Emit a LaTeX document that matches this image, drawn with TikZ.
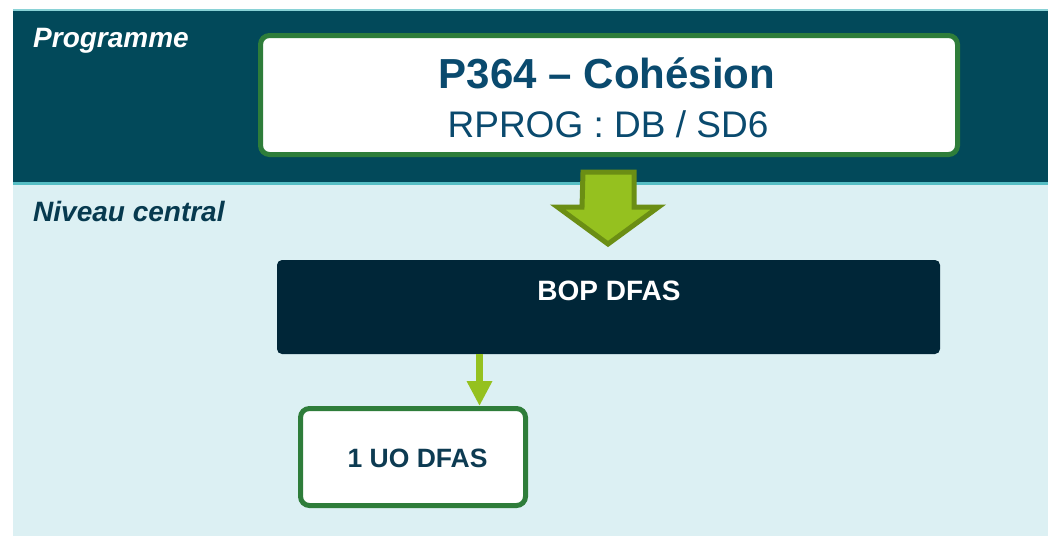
\documentclass[tikz,border=0pt]{standalone}
\usepackage{fontspec}
\setmainfont{Liberation Sans}
\usetikzlibrary{arrows.meta}

\definecolor{bandtop}{HTML}{02495A}
\definecolor{bandline}{HTML}{56BEC4}
\definecolor{bandlow}{HTML}{DCF0F3}
\definecolor{boxgreen}{HTML}{2E7D3A}
\definecolor{arrowfill}{HTML}{95C11F}
\definecolor{arrowedge}{HTML}{6B8E14}
\definecolor{bopnavy}{HTML}{002638}
\definecolor{titleblue}{HTML}{0A4A6E}
\definecolor{uoblue}{HTML}{0D3B52}
\definecolor{levelnavy}{HTML}{073A4F}

\tikzset{
  greenbox/.style={draw=boxgreen, line width=5pt, fill=white, rounded corners=9pt,
    inner sep=0pt},
  navybox/.style={fill=bopnavy, rounded corners=5pt, inner sep=0pt},
  lbl/.style={anchor=base, inner sep=0pt},
  levellabel/.style={anchor=base west, inner sep=0pt, font=\fontsize{28}{32}\selectfont\bfseries\itshape},
  thinarrow/.style={draw=arrowfill, line width=7pt, -{Triangle[width=24pt,length=25pt]}},
  blockarrow/.style={fill=arrowfill, draw=arrowedge, line width=5pt, line join=miter}
}

\begin{document}
\begin{tikzpicture}[x=1pt, y=-1pt]
  \useasboundingbox (0,0) rectangle (1048,536);

  % bands
  \fill[bandlow] (13,185) rectangle (1048,536);
  \fill[bandtop] (13,10) rectangle (1048,183);
  \draw[bandline!70, line width=2pt] (13,10) -- (1048,10);
  \draw[bandline, line width=3pt] (13,183.5) -- (1048,183.5);

  % level labels
  \node[levellabel, text=white] (lvlprog) at (33,47) {Programme};
  \node[levellabel, text=levelnavy] (lvlcentral) at (33,221) {Niveau central};

  % programme box
  \node[greenbox, minimum width=697pt, minimum height=119pt] (prog) at (609,95) {};
  \node[lbl, text=titleblue, font=\fontsize{42}{48}\selectfont\bfseries] (progtitle) at (607,88) {P364 – Cohésion};
  \node[lbl, text=titleblue, font=\fontsize{37}{42}\selectfont] (progsub) at (608,137) {RPROG : DB / SD6};

  % BOP box
  \node[navybox, minimum width=663pt, minimum height=94pt] (bop) at (608.5,307) {};
  \node[lbl, text=white, font=\fontsize{28}{32}\selectfont\bfseries] (boptext) at (609,300) {BOP DFAS};

  % UO box
  \node[greenbox, minimum width=225pt, minimum height=97pt] (uo) at (413,457) {};
  \node[lbl, text=uoblue, font=\fontsize{26.5}{30}\selectfont\bfseries] (uotext) at (417.5,467) {1 UO DFAS};

  % block arrow from programme to BOP
  \coordinate (ba) at (608.5,172);
  \draw[blockarrow] ([xshift=-25.5pt]ba) -- ++(51,0) -- ++(0,35) -- ++(24.5,0)
     -- ++(-50.5,37) -- ++(-50.5,-37) -- ++(24.5,0) -- cycle;

  % thin arrow from BOP to UO
  \draw[thinarrow] (bop.south -| 479.5,0) -- (uo.north -| 479.5,0);
\end{tikzpicture}
\end{document}
